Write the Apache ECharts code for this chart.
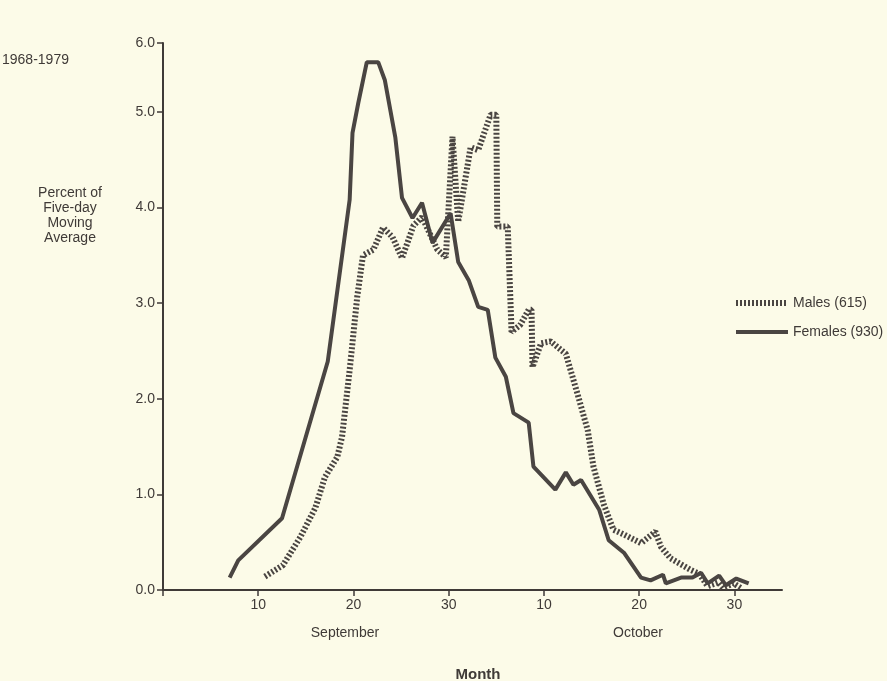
<!DOCTYPE html>
<html>
<head>
<meta charset="utf-8">
<script src="https://cdn.jsdelivr.net/npm/echarts@6/dist/echarts.min.js"></script>
<style>
  html, body { margin: 0; padding: 0; background: #fcfbe8; }
  #chart { width: 887px; height: 681px; }
</style>
</head>
<body>
<div id="chart"></div>
<script>
// days counted from Sept 0 (Oct 1 = 31)
const femaleDays = [7.0, 7.9, 12.5, 17.3, 19.6, 19.9, 20.5, 21.4, 22.6, 23.3, 24.4, 25.1, 26.2, 27.2, 28.3,
  30.2, 31.0, 32.1, 33.1, 34.1, 34.9, 36.0, 36.8, 38.4, 38.9, 41.2, 42.3, 43.1, 43.9, 45.8, 46.8,
  48.4, 50.2, 51.2, 52.5, 52.8, 54.4, 55.6, 56.5, 57.2, 58.4, 59.1, 60.2, 61.5];
const femaleValues = [0.13, 0.31, 0.75, 2.39, 4.08, 4.78, 5.09, 5.52, 5.52, 5.33, 4.73, 4.10, 3.89, 4.05, 3.63,
  3.94, 3.43, 3.24, 2.96, 2.93, 2.43, 2.23, 1.85, 1.75, 1.29, 1.05, 1.23, 1.10, 1.15, 0.84, 0.52,
  0.39, 0.13, 0.10, 0.16, 0.07, 0.13, 0.13, 0.18, 0.07, 0.15, 0.05, 0.12, 0.07];

const maleDays = [10.7, 12.6, 14.4, 16.0, 17.0, 18.3, 18.8, 19.6, 20.4, 21.0, 22.1, 23.1, 24.1, 25.1, 26.3,
  27.2, 28.8, 29.7, 30.4, 31.0, 32.3, 33.1, 34.4, 35.0, 35.1, 36.2, 36.6, 37.5, 38.4, 38.7, 38.8,
  39.7, 40.7, 42.3, 43.5, 44.6, 45.2, 46.3, 47.3, 48.4, 50.2, 51.7, 52.3, 53.3, 55.4, 56.3, 57.2,
  58.3, 58.8, 59.9, 60.7];
const maleValues = [0.14, 0.26, 0.55, 0.86, 1.18, 1.39, 1.60, 2.30, 3.07, 3.50, 3.56, 3.79, 3.69, 3.47, 3.81,
  3.90, 3.56, 3.48, 4.74, 3.85, 4.63, 4.60, 4.97, 4.97, 3.80, 3.80, 2.70, 2.77, 2.93, 2.93, 2.33,
  2.58, 2.60, 2.47, 2.06, 1.67, 1.29, 0.89, 0.63, 0.58, 0.49, 0.61, 0.45, 0.33, 0.21, 0.17, 0.04,
  0.08, 0.02, 0.07, 0.02];

const yTop = 5.72;   // top of the drawn axis, labelled 6.0
const font = 'Liberation Sans';
const ink = '#3f3a37';
const lineInk = '#4a4542';
const dotted = { color: lineInk, width: 6, type: [2, 2], cap: 'butt' };
const solid = { color: lineInk, width: 4 };

const pairs = (xs, ys) => xs.map((x, i) => [x, ys[i]]);

const chart = echarts.init(document.getElementById('chart'));

chart.setOption({
  backgroundColor: '#fcfbe8',
  animation: false,
  textStyle: { fontFamily: font, color: ink },
  grid: { left: 163, right: 105, top: 43, bottom: 91 },
  legend: {
    orient: 'vertical',
    left: 728,
    top: 291,
    itemWidth: 52,
    itemHeight: 14,
    itemGap: 15,
    itemStyle: { opacity: 0 },
    textStyle: { fontFamily: font, fontSize: 14, color: ink },
    data: [
      { name: 'Males (615)', lineStyle: dotted },
      { name: 'Females (930)', lineStyle: solid }
    ]
  },
  xAxis: {
    type: 'value',
    min: 0,
    max: 65,
    interval: 10,
    axisLine: { lineStyle: { color: ink, width: 2 } },
    axisTick: { show: true, length: 6, lineStyle: { color: ink, width: 1.5 } },
    splitLine: { show: false },
    axisLabel: {
      margin: 8,
      fontSize: 14,
      color: ink,
      showMaxLabel: false,
      formatter: v => (v === 0 || v > 60) ? '' : String(v > 30 ? v - 30 : v)
    }
  },
  yAxis: {
    type: 'value',
    min: 0,
    max: yTop,
    interval: 1,
    axisLine: { show: true, lineStyle: { color: ink, width: 2 } },
    axisTick: { show: true, length: 6, lineStyle: { color: ink, width: 1.5 } },
    splitLine: { show: false },
    axisLabel: {
      margin: 8,
      fontSize: 14,
      color: ink,
      showMaxLabel: true,
      formatter: v => (v > 5.5 ? 6 : v).toFixed(1)
    }
  },
  graphic: [
    { type: 'text', left: 2, top: 53, style: { text: '1968-1979', font: '14px ' + font, fill: ink } },
    { type: 'text', x: 70, y: 186, style: { text: 'Percent of\nFive-day\nMoving\nAverage', font: '14px ' + font, fill: ink, align: 'center', lineHeight: 15 } },
    { type: 'text', x: 345, y: 626, style: { text: 'September', font: '14px ' + font, fill: ink, align: 'center' } },
    { type: 'text', x: 638, y: 626, style: { text: 'October', font: '14px ' + font, fill: ink, align: 'center' } },
    { type: 'text', x: 478, y: 667, style: { text: 'Month', font: 'bold 15px ' + font, fill: ink, align: 'center' } }
  ],
  series: [
    {
      name: 'Males (615)',
      type: 'line',
      data: pairs(maleDays, maleValues),
      symbol: 'none',
      lineStyle: dotted,
      itemStyle: { color: lineInk }
    },
    {
      name: 'Females (930)',
      type: 'line',
      data: pairs(femaleDays, femaleValues),
      symbol: 'none',
      lineStyle: solid,
      itemStyle: { color: lineInk }
    }
  ]
});
</script>
</body>
</html>
